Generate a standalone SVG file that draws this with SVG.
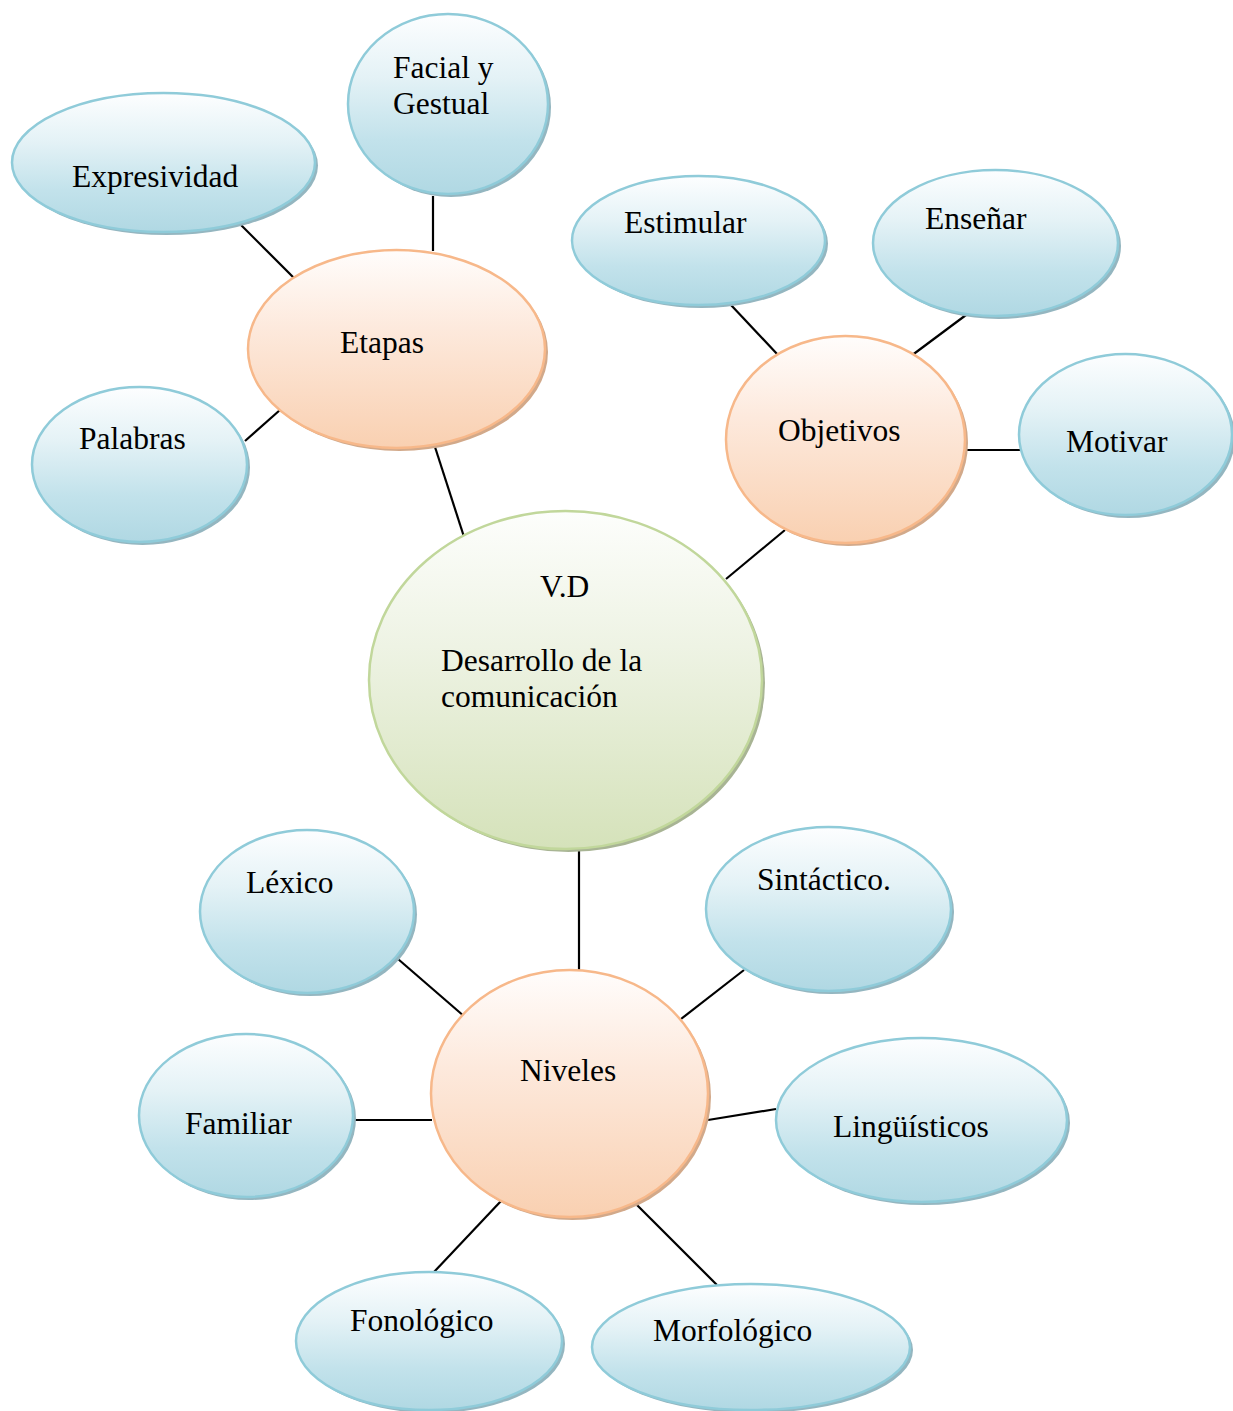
<svg xmlns="http://www.w3.org/2000/svg" width="1233" height="1411" viewBox="0 0 1233 1411">
<defs>
<linearGradient id="gBlue" x1="0" y1="0" x2="0" y2="1">
<stop offset="0" stop-color="#fdfeff"/>
<stop offset="0.35" stop-color="#e4f2f6"/>
<stop offset="0.7" stop-color="#c2e2eb"/>
<stop offset="1" stop-color="#b0d8e3"/>
</linearGradient>
<linearGradient id="gOrange" x1="0" y1="0" x2="0" y2="1">
<stop offset="0" stop-color="#fffdfc"/>
<stop offset="0.4" stop-color="#fde9dc"/>
<stop offset="1" stop-color="#f9d0b1"/>
</linearGradient>
<linearGradient id="gGreen" x1="0" y1="0" x2="0" y2="1">
<stop offset="0" stop-color="#fdfefc"/>
<stop offset="0.4" stop-color="#eef3e4"/>
<stop offset="1" stop-color="#d5e2ba"/>
</linearGradient>
</defs>
<style>
.blue{fill:url(#gBlue);stroke:#8fcbd9;stroke-width:2.5}
.orange{fill:url(#gOrange);stroke:#f7b88a;stroke-width:2.5}
.green{fill:url(#gGreen);stroke:#c1d79b;stroke-width:2.5}
.shb{fill:#94b6c0}
.sho{fill:#d2a98a}
.shg{fill:#a8b494}
.t{font-family:"Liberation Serif","Times New Roman",serif;font-size:31.5px;fill:#000}
.c line{stroke:#000;stroke-width:2.2}
</style>
<rect width="1233" height="1411" fill="#fff"/>
<g class="c" id="connectors">
<line x1="241" y1="225" x2="297" y2="281"/>
<line x1="433" y1="196" x2="433" y2="251"/>
<line x1="245" y1="441" x2="280" y2="410"/>
<line x1="435" y1="447" x2="466" y2="543"/>
<line x1="731" y1="305" x2="778" y2="355"/>
<line x1="966" y1="315" x2="911" y2="356"/>
<line x1="964" y1="450" x2="1020" y2="450"/>
<line x1="785" y1="530" x2="726" y2="579"/>
<line x1="579" y1="847" x2="579" y2="970"/>
<line x1="398" y1="959" x2="465" y2="1017"/>
<line x1="744" y1="970" x2="681" y2="1019"/>
<line x1="355" y1="1120" x2="432" y2="1120"/>
<line x1="708" y1="1120" x2="776" y2="1109"/>
<line x1="501" y1="1201" x2="434" y2="1272"/>
<line x1="633" y1="1201" x2="717" y2="1285"/>
</g>
<g id="facial">
<ellipse class="shb" cx="451" cy="107" rx="100" ry="90"/>
<ellipse class="blue" cx="448" cy="104" rx="100" ry="90"/>
<text class="t" x="393" y="78">Facial y</text>
<text class="t" x="393" y="114">Gestual</text>
</g>
<g id="expresividad">
<ellipse class="shb" cx="166.5" cy="165.5" rx="151.5" ry="69.5"/>
<ellipse class="blue" cx="163.5" cy="162.5" rx="151.5" ry="69.5"/>
<text class="t" x="72" y="187">Expresividad</text>
</g>
<g id="etapas">
<ellipse class="sho" cx="399.5" cy="352" rx="148.5" ry="99"/>
<ellipse class="orange" cx="396.5" cy="349" rx="148.5" ry="99"/>
<text class="t" x="340" y="353">Etapas</text>
</g>
<g id="palabras">
<ellipse class="shb" cx="142.5" cy="467.5" rx="107.5" ry="77.5"/>
<ellipse class="blue" cx="139.5" cy="464.5" rx="107.5" ry="77.5"/>
<text class="t" x="79" y="449">Palabras</text>
</g>
<g id="estimular">
<ellipse class="shb" cx="701.5" cy="243.5" rx="126.5" ry="64.5"/>
<ellipse class="blue" cx="698.5" cy="240.5" rx="126.5" ry="64.5"/>
<text class="t" x="624" y="233">Estimular</text>
</g>
<g id="ensenar">
<ellipse class="shb" cx="998.5" cy="246" rx="122.5" ry="73"/>
<ellipse class="blue" cx="995.5" cy="243" rx="122.5" ry="73"/>
<text class="t" x="925" y="229">Enseñar</text>
</g>
<g id="objetivos">
<ellipse class="sho" cx="848.5" cy="442.5" rx="119.5" ry="103.5"/>
<ellipse class="orange" cx="845.5" cy="439.5" rx="119.5" ry="103.5"/>
<text class="t" x="778" y="441">Objetivos</text>
</g>
<g id="motivar">
<ellipse class="shb" cx="1128.5" cy="437.5" rx="106.5" ry="80.5"/>
<ellipse class="blue" cx="1125.5" cy="434.5" rx="106.5" ry="80.5"/>
<text class="t" x="1066" y="452">Motivar</text>
</g>
<g id="vd">
<ellipse class="shg" cx="568.5" cy="683" rx="196.5" ry="169"/>
<ellipse class="green" cx="565.5" cy="680" rx="196.5" ry="169"/>
<text class="t" x="540" y="597">V.D</text>
<text class="t" x="441" y="671">Desarrollo de la</text>
<text class="t" x="441" y="707">comunicación</text>
</g>
<g id="lexico">
<ellipse class="shb" cx="310" cy="914.5" rx="107" ry="81.5"/>
<ellipse class="blue" cx="307" cy="911.5" rx="107" ry="81.5"/>
<text class="t" x="246" y="893">Léxico</text>
</g>
<g id="sintactico">
<ellipse class="shb" cx="831.5" cy="912" rx="122.5" ry="82"/>
<ellipse class="blue" cx="828.5" cy="909" rx="122.5" ry="82"/>
<text class="t" x="757" y="890">Sintáctico.</text>
</g>
<g id="niveles">
<ellipse class="sho" cx="572.5" cy="1096.5" rx="138.5" ry="123.5"/>
<ellipse class="orange" cx="569.5" cy="1093.5" rx="138.5" ry="123.5"/>
<text class="t" x="520" y="1081">Niveles</text>
</g>
<g id="familiar">
<ellipse class="shb" cx="249" cy="1118.5" rx="107" ry="81.5"/>
<ellipse class="blue" cx="246" cy="1115.5" rx="107" ry="81.5"/>
<text class="t" x="185" y="1134">Familiar</text>
</g>
<g id="linguisticos">
<ellipse class="shb" cx="924.5" cy="1123" rx="145.5" ry="82"/>
<ellipse class="blue" cx="921.5" cy="1120" rx="145.5" ry="82"/>
<text class="t" x="833" y="1137">Lingüísticos</text>
</g>
<g id="fonologico">
<ellipse class="shb" cx="432" cy="1344" rx="133" ry="69"/>
<ellipse class="blue" cx="429" cy="1341" rx="133" ry="69"/>
<text class="t" x="350" y="1331">Fonológico</text>
</g>
<g id="morfologico">
<ellipse class="shb" cx="754" cy="1350" rx="159" ry="63"/>
<ellipse class="blue" cx="751" cy="1347" rx="159" ry="63"/>
<text class="t" x="653" y="1341">Morfológico</text>
</g>
</svg>
